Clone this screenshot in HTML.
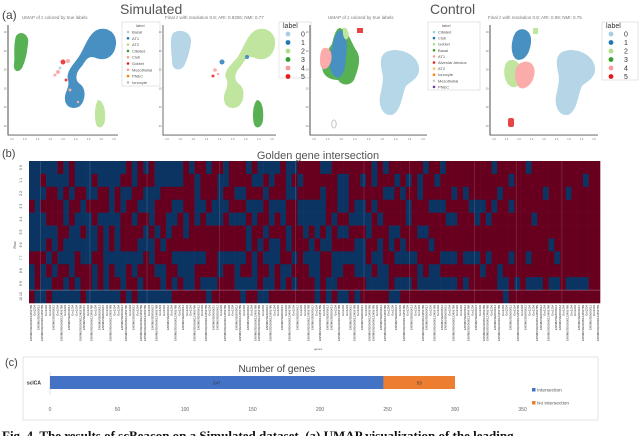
<!DOCTYPE html>
<html><head><meta charset="utf-8"><style>
html,body{margin:0;padding:0;background:#fff;}
body{width:640px;height:436px;overflow:hidden;position:relative;font-family:"Liberation Sans",sans-serif;}
svg{position:absolute;left:0;top:0;}
</style></head><body>
<svg id="fig" width="640" height="436" viewBox="0 0 640 436" xmlns="http://www.w3.org/2000/svg">
<defs>
<pattern id="dots" width="2" height="2" patternUnits="userSpaceOnUse"><rect width="2" height="2" fill="#fff" fill-opacity="0"/><circle cx="1" cy="1" r="0.45" fill="#fff" fill-opacity="0.55"/></pattern>
</defs>
<g id="umap" font-family="Liberation Sans, sans-serif">
 <text x="2" y="19" font-size="12" fill="#444">(a)</text>
 <text x="120" y="14" font-size="14" fill="#555">Simulated</text>
 <text x="430" y="14" font-size="14" fill="#555">Control</text>
 <text x="22" y="19" font-size="4.5" fill="#777">UMAP of z colored by true labels</text>
 <text x="165" y="19" font-size="4.5" fill="#777">Final z with resolution 0.8; ARI: 0.8306; NMI: 0.77</text>
 <text x="328" y="19" font-size="4.5" fill="#777">UMAP of z colored by true labels</text>
 <text x="488" y="19" font-size="4.5" fill="#777">Final z with resolution 0.8; ARI: 0.89; NMI: 0.75</text>
 <g opacity="0.9">
  <path d="M16,36 C20,30 30,34 28,44 C27,52 26,60 22,68 C19,73 13,72 14,64 C15,56 13,46 16,36Z" fill="#33a02c"/>
  <path d="M97,30 C106,26 117,32 116,44 C115,56 106,62 96,58 C88,55 86,60 82,66 C76,72 74,80 80,84 C86,88 86,100 80,106 C74,110 66,108 65,100 C64,92 70,88 68,80 C66,72 72,66 78,58 C84,50 88,34 97,30Z" fill="#1f78b4"/>
  <path d="M98,100 C103,100 106,110 105,120 C104,128 98,130 96,124 C94,116 95,104 98,100Z" fill="#b2df8a"/>
  <circle cx="63" cy="62" r="2.5" fill="#e31a1c"/><circle cx="58" cy="72" r="2" fill="#fb9a99"/><circle cx="55" cy="75" r="1.5" fill="#fb9a99"/><circle cx="68" cy="61" r="2" fill="#fb9a99"/><circle cx="66" cy="80" r="1.5" fill="#e31a1c"/><circle cx="70" cy="90" r="1.5" fill="#fb9a99"/><circle cx="78" cy="102" r="1.2" fill="#fb9a99"/><circle cx="60" cy="68" r="1.5" fill="#a6cee3"/>
 </g>
 <path d="M8,25 V135 H118" fill="none" stroke="#222" stroke-width="0.8"/>
 <rect x="122" y="22" width="38" height="64" fill="#fff" stroke="#ccc" stroke-width="0.5"/>
 <g opacity="0.9">
  <path d="M173,33 C180,28 192,32 191,42 C190,50 188,58 184,66 C180,72 172,70 172,62 C172,54 169,40 173,33Z" fill="#a6cee3"/>
  <path d="M256,30 C265,26 276,32 275,44 C274,56 265,62 255,58 C247,55 245,60 241,66 C235,72 233,80 239,84 C245,88 245,100 239,106 C233,110 225,108 224,100 C223,92 229,88 227,80 C222,72 230,66 237,58 C243,50 247,34 256,30Z" fill="#b2df8a"/>
  <path d="M257,100 C262,100 264,110 263,120 C262,128 256,130 254,124 C252,116 253,104 257,100Z" fill="#33a02c"/>
  <circle cx="222" cy="62" r="2.5" fill="#1f78b4"/><circle cx="247" cy="57" r="2" fill="#1f78b4"/><circle cx="215" cy="70" r="1.8" fill="#fb9a99"/><circle cx="213" cy="76" r="1.5" fill="#e31a1c"/><circle cx="218" cy="74" r="1.3" fill="#fb9a99"/>
 </g>
 <path d="M163,25 V135 H276" fill="none" stroke="#222" stroke-width="0.8"/>
 <rect x="279" y="22" width="32" height="56" fill="#fff" stroke="#ccc" stroke-width="0.5"/>
 <g opacity="0.9">
  <path d="M340,28 C348,30 350,40 356,50 C362,58 358,70 354,80 C350,86 342,86 338,80 C330,80 322,76 322,66 C322,56 328,50 332,44 C334,36 336,28 340,28Z" fill="#33a02c"/>
  <path d="M340,30 C346,32 348,44 346,56 C346,66 344,76 338,78 C332,76 328,68 330,58 C332,48 334,32 340,30Z" fill="#1f78b4"/>
  <path d="M324,48 C330,46 334,56 330,64 C326,72 320,70 320,62 C320,56 320,50 324,48Z" fill="#fb9a99"/>
  <path d="M343,28 C347,26 350,34 348,38 C346,42 342,38 343,28Z" fill="#b2df8a"/>
  <path d="M386,52 C398,46 418,54 419,68 C420,78 410,82 406,86 C402,94 402,108 394,114 C386,118 378,110 380,96 C382,86 384,80 382,72 C380,62 380,56 386,52Z" fill="#a6cee3"/>
  <rect x="357" y="28" width="6" height="5" fill="#e31a1c"/><ellipse cx="334" cy="124" rx="2.2" ry="4" fill="none" stroke="#bbb" stroke-width="1"/>
 </g>
 <path d="M310,25 V135 H427" fill="none" stroke="#222" stroke-width="0.8"/>
 <rect x="428" y="22" width="52" height="68" fill="#fff" stroke="#ccc" stroke-width="0.5"/>
 <g opacity="0.9">
  <path d="M507,62 C514,56 522,64 522,74 C522,84 516,90 510,86 C504,82 502,68 507,62Z" fill="#b2df8a"/>
  <path d="M519,64 C528,58 537,64 534,76 C532,86 522,92 518,86 C514,78 514,68 519,64Z" fill="#fb9a99"/>
  <path d="M516,32 C522,26 532,30 531,42 C530,52 526,60 518,60 C510,58 510,40 516,32Z" fill="#1f78b4"/>
  <rect x="533" y="28" width="5" height="6" fill="#b2df8a"/>
  <path d="M562,52 C574,46 594,54 595,68 C596,78 586,82 582,86 C578,94 578,108 570,114 C562,118 554,110 556,96 C558,86 560,80 558,72 C556,62 556,56 562,52Z" fill="#a6cee3"/>
  <rect x="508" y="118" width="6" height="9" rx="2" fill="#e31a1c"/>
 </g>
 <path d="M490,25 V135 H598" fill="none" stroke="#222" stroke-width="0.8"/>
 <rect x="602" y="22" width="36" height="58" fill="#fff" stroke="#ccc" stroke-width="0.5"/>
 <rect x="8" y="25" width="600" height="110" fill="url(#dots)" pointer-events="none"/>
 <g id="legends"></g>
</g>
<g id="heat"></g>
<g id="bar"></g>
<text x="2" y="440" font-family="Liberation Serif, serif" font-size="13" font-weight="bold" fill="#111">Fig. 4. The results of scBeacon on a Simulated dataset. (a) UMAP visualization of the leading</text>
</svg>
<script>
const NS='http://www.w3.org/2000/svg';
function mk(tag,attrs,parent,txt){const e=document.createElementNS(NS,tag);for(const k in attrs)e.setAttribute(k,attrs[k]);if(txt!==undefined)e.textContent=txt;parent.appendChild(e);return e;}
const legendTrue1=['Basal','AT1','AT2','Ciliated','Club','Goblet','Mesothelial','PNEC','Ionocyte'];
const legendColors1=['#a6cee3','#1f78b4','#b2df8a','#33a02c','#fb9a99','#e31a1c','#fb9a99','#ff7f00','#bbbbbb'];
const legendTrue3=['Ciliated','Club','Goblet','Basal','AT1','Alveolar Aleolus','AT2','Ionocyte','Mesothelial','PNEC'];
const legendColors3=['#a6cee3','#1f78b4','#b2df8a','#33a02c','#fb9a99','#e31a1c','#fdbf6f','#ff7f00','#cccccc','#6a3d9a'];
const clusterLabels=['0','1','2','3','4','5'];
const clusterColors=['#a6cee3','#1f78b4','#b2df8a','#33a02c','#fb9a99','#e31a1c'];
const lg=document.getElementById('legends');
function smallLegend(x,y,names,cols,step){
  const t=mk('text',{x:x+12,y:y,'font-size':4,fill:'#555'},lg,'label');
  
  
  names.forEach((n,i)=>{
    const c=mk('circle',{cx:x+4,cy:y+5+i*step,r:1.3,fill:cols[i]},lg);
    
    
    const tt=mk('text',{x:x+8,y:y+6.5+i*step,'font-size':4,fill:'#555'},lg,n);
    
    
  });
}
function bigLegend(x,y,cols){
  const t=mk('text',{x:x+2,y:y,'font-size':7,fill:'#333'},lg,'label');
  
  
  clusterLabels.forEach((n,i)=>{
    const c=mk('circle',{cx:x+7,cy:y+6+i*8.5,r:2.4,fill:cols[i]},lg);
    
    
    const tt=mk('text',{x:x+20,y:y+8.5+i*8.5,'font-size':7,fill:'#333'},lg,n);
    
    
  });
}
smallLegend(124,27,legendTrue1,legendColors1,6.3);
bigLegend(281,28,clusterColors);
smallLegend(430,27,legendTrue3,legendColors3,6.1);
bigLegend(604,28,clusterColors);
[[8,118,25,135],[163,276,25,135],[310,427,25,135],[490,598,25,135]].forEach(a=>{
  for(let i=0;i<9;i++){const x=a[0]+4+i*(a[1]-a[0]-8)/8;const t=mk('text',{x:x,y:a[3]+5,'font-size':2.5,fill:'#666','text-anchor':'middle'},lg,'1.0');}
  for(let i=0;i<6;i++){const y=a[2]+8+i*(a[3]-a[2]-16)/5;const t=mk('text',{x:a[0]-1.5,y:y,'font-size':2.5,fill:'#666','text-anchor':'end'},lg,'10');}
});

const heatRowLabels=['0 0','1 1','2 2','3 3','4 4','5 5','6 6','7 7','8 8','9 9','10 10'];
const heatRows=[
'0000010100 0000000101 0100000101 1011011101 0000100111 1001111111 0101111110 1101111111 1011111011 1111111111',
'0010000100 0100001101 1100000110 1110011110 0101101011 1111001101 0111010101 1011111111 1111011111 1111111011',
'0001101011 0011010011 0001111110 1110110011 1011100111 1011001111 1100101101 1111010111 1101111111 0111011111',
'1011110110 1111010110 0011100110 0100011100 0100011000 0011001001 0111110111 0001111000 1011011111 1111111111',
'0001110100 0100001101 1011001010 1000100010 1101011000 0010110000 1011110111 1110011101 0111111101 1111111111',
'0000011001 0010101111 0101011011 1111111101 1011101101 0101001110 1110011100 1111111111 1111111111 1111111111',
'0001010000 0010101110 0010111111 1111111101 0100101110 1001111001 1010101111 0111111111 1111111111 1011111111',
'1110100010 0110000000 1011100000 0110000010 1000110100 0110000001 0011000011 1100010001 0111011011 1101111111',
'0101011011 1010100101 1100110001 1110110110 1101001110 0110011000 1001111101 0011111110 1101111111 1111111111',
'0100110101 1010110110 1110101001 0001110000 1001010111 0100111110 0001000100 0000010111 1100101000 1001000011',
'1001000001 0000001010 0000011111 1011111011 0011111111 0101001011 1110011111 1111111111 1110111111 1111111111'
].map(s=>s.replace(/ /g,''));
const heatColors=['#0b3463','#67001f'];
const H={x0:29,x1:600,y0:161,y1:303};
const hg=document.getElementById('heat');
const nCols=heatRows[0].length,nRows=heatRows.length;
const colX=c=>H.x0+c*(H.x1-H.x0)/nCols;
const rowY=r=>H.y0+r*(H.y1-H.y0)/nRows;
const cw=(H.x1-H.x0)/nCols,rh=(H.y1-H.y0)/nRows;
heatRows.forEach((row,r)=>{
  for(let c=0;c<nCols;c++){
    const v=+row[c];
    const e=mk('rect',{x:colX(c).toFixed(2),y:rowY(r).toFixed(2),width:(cw+0.3).toFixed(2),height:(rh+0.3).toFixed(2),fill:heatColors[v]},hg);
    
    
  }
  const t=mk('text',{x:0,y:0,'font-size':3.5,fill:'#444','text-anchor':'middle',transform:`translate(22,${(rowY(r)+rh/2).toFixed(1)}) rotate(-90)`},hg,heatRowLabels[r]);
  
  
});
[3,16,31,50,70,88,100,117,128,140].forEach(k=>{const x=H.x0+k*(H.x1-H.x0)/150;const l=mk('line',{x1:x,x2:x,y1:H.y0,y2:H.y1,stroke:'#fff','stroke-opacity':0.18,'stroke-width':0.7},hg);});
{const l=mk('line',{x1:H.x0,x2:H.x1,y1:rowY(10),y2:rowY(10),stroke:'#fff','stroke-opacity':0.3,'stroke-width':0.8},hg);}
const tb=mk('text',{x:2,y:157,'font-size':11,fill:'#444'},hg,'(b)');
const th=mk('text',{x:318,y:159,'font-size':11,fill:'#555','text-anchor':'middle'},hg,'Golden gene intersection');
const tr=mk('text',{x:0,y:0,'font-size':3.5,fill:'#444','text-anchor':'middle',transform:'translate(16,245) rotate(-90)'},hg,'Row');
const geneLens=[3,1,2,3,1,1,2,1,3,1,2,1,1,3,2,1,3,1,2,2,1,3,1,1,2,3,1,2,1,3];
for(let g=0;g<150;g++){
  const x=H.x0+(g+0.5)*(H.x1-H.x0)/150;
  const L=geneLens[g%30];
  const name=L===1?'Gm1234':(L===2?'ENSMUSG0000012':'ENSMUSG00000123456789');
  const t=mk('text',{x:0,y:0,'font-size':2.8,fill:'#222','text-anchor':'end',transform:`translate(${(x+0.9).toFixed(1)},305) rotate(-90)`},hg,name);
  
  
}
const tg=mk('text',{x:318,y:350,'font-size':3,fill:'#555','text-anchor':'middle'},hg,'genes');

const barCategories=['scICA'];
const barSeriesNames=['Intersection','No intersection'];
const barIntersection=[247];
const barNoIntersection=[53];
const barTicks=[0,50,100,150,200,250,300,350];
const bgp=document.getElementById('bar');
const X0=50,XS=1.35;
const xs=v=>X0+v*XS;
const tc=mk('text',{x:5,y:366,'font-size':11,fill:'#444'},bgp,'(c)');
const frame=mk('rect',{x:23,y:357,width:575,height:63,fill:'#fff',stroke:'#ddd','stroke-width':0.8},bgp);
const bt=mk('text',{x:xs(168),y:372,'font-size':10,fill:'#444','text-anchor':'middle'},bgp,'Number of genes');
const ax=mk('line',{x1:xs(0),x2:xs(0),y1:372,y2:395,stroke:'#ccc','stroke-width':0.6},bgp);
barCategories.forEach((cat,i)=>{
  const y=376+i*16,h=13;
  const a=mk('rect',{x:xs(0),y:y,width:xs(barIntersection[i])-xs(0),height:h,fill:'#4472c4'},bgp);
  const b=mk('rect',{x:xs(barIntersection[i]),y:y,width:xs(barIntersection[i]+barNoIntersection[i])-xs(barIntersection[i]),height:h,fill:'#ed7d31'},bgp);
  const la=mk('text',{x:(xs(0)+xs(barIntersection[i]))/2,y:y+8.5,'font-size':4.5,fill:'#333','text-anchor':'middle'},bgp,String(barIntersection[i]));
  const lb=mk('text',{x:(xs(barIntersection[i])+xs(barIntersection[i]+barNoIntersection[i]))/2,y:y+8.5,'font-size':4.5,fill:'#333','text-anchor':'middle'},bgp,String(barNoIntersection[i]));
  const lc=mk('text',{x:41,y:y+8.5,'font-size':5,'font-weight':'bold',fill:'#333','text-anchor':'end'},bgp,cat);
});
barTicks.forEach(v=>{const t=mk('text',{x:xs(v),y:411,'font-size':5,fill:'#666','text-anchor':'middle'},bgp,String(v));});
const legCols=['#4472c4','#ed7d31'];
barSeriesNames.forEach((n,i)=>{
  const r=mk('rect',{x:532,y:388+i*13,width:3.5,height:3.5,fill:legCols[i]},bgp);
  const t=mk('text',{x:537,y:391.5+i*13,'font-size':4.8,fill:'#555'},bgp,n);
});
</script>
</body></html>
